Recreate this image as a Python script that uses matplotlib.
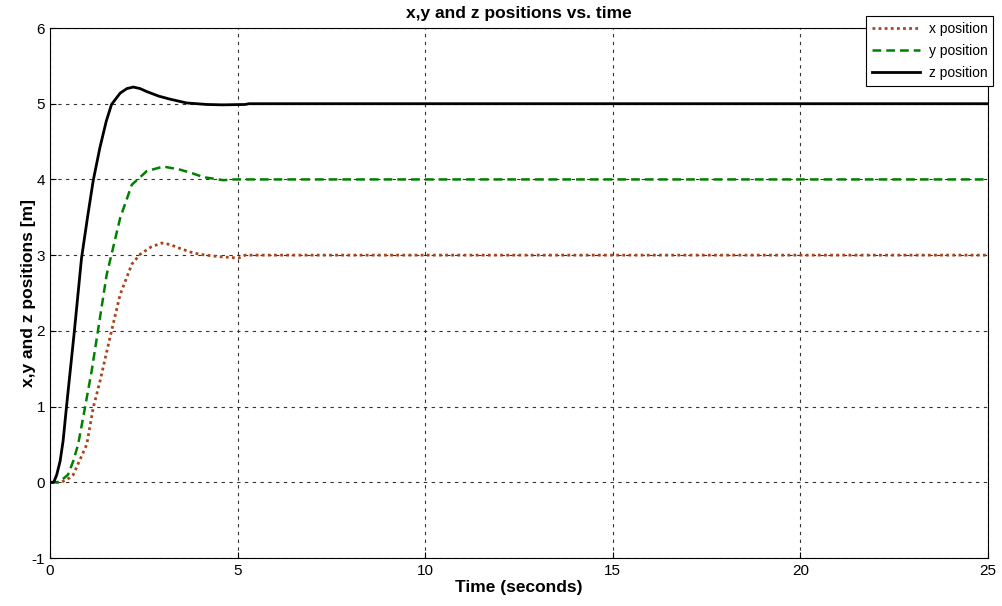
import matplotlib.pyplot as plt

plt.rcParams['font.family'] = ['Liberation Sans', 'DejaVu Sans']
plt.rcParams['axes.unicode_minus'] = False

# values
t_x = [0, 0.3, 0.53, 0.62, 0.8, 0.98, 1.15, 1.33, 1.64, 1.87, 2.18, 2.4, 2.7,
       2.98, 3.2, 3.46, 3.75, 4.0, 4.5, 4.8, 5.02, 5.2, 5.9, 25]
pos_x = [0, 0, 0.06, 0.1, 0.3, 0.5, 0.98, 1.33, 2.0, 2.48, 2.88, 3.01, 3.11,
         3.16, 3.14, 3.09, 3.04, 3.01, 2.98, 2.97, 2.96, 3.0, 3.0, 3.0]

t_y = [0, 0.2, 0.36, 0.48, 0.62, 0.75, 0.93, 1.11, 1.29, 1.51, 1.87, 2.18,
       2.58, 3.02, 3.46, 3.8, 4.09, 4.62, 4.9, 25]
pos_y = [0, 0, 0.05, 0.1, 0.28, 0.5, 0.98, 1.47, 2.04, 2.74, 3.49, 3.93,
         4.11, 4.17, 4.13, 4.08, 4.03, 3.99, 4.0, 4.0]

t_z = [0, 0.1, 0.18, 0.27, 0.35, 0.44, 0.65, 0.84, 1.0, 1.15, 1.33, 1.5,
       1.64, 1.87, 2.05, 2.22, 2.4, 2.58, 2.9, 3.2, 3.64, 4.18, 4.6, 5.2,
       5.3, 25]
pos_z = [0, 0, 0.1, 0.28, 0.55, 1.0, 2.0, 2.96, 3.5, 3.98, 4.42, 4.77,
         4.99, 5.14, 5.2, 5.22, 5.2, 5.16, 5.1, 5.06, 5.01, 4.99, 4.985, 4.99,
         5.0, 5.0]

xticks = [0, 5, 10, 15, 20, 25]
yticks = [-1, 0, 1, 2, 3, 4, 5, 6]

fig = plt.figure(figsize=(10.03, 6.06), dpi=100)
ax = fig.add_axes([50/1003, 1 - 558/606, 938/1003, 530/606])

ax.plot(t_x, pos_x, color='#a8441c', linestyle=(0, (1, 1.2)), linewidth=2,
        label='x position')
ax.plot(t_y, pos_y, color='#008000', linestyle=(0, (3.5, 2)), linewidth=1.8,
        label='y position')
ax.plot(t_z, pos_z, color='black', linestyle='-', linewidth=2,
        label='z position')

ax.set_xlim(0, 25)
ax.set_ylim(-1, 6)
ax.set_xticks(xticks)
ax.set_yticks(yticks)
ax.tick_params(direction='in', labelsize=11, length=4, width=0.8, colors='black')
ax.tick_params(axis='x', pad=4)
ax.grid(True, color='#333333', linestyle=(0, (3, 4)), linewidth=0.8)
for s in ax.spines.values():
    s.set_linewidth(0.8)

ax.set_title('x,y and z positions vs. time', fontsize=12.5, fontweight='bold', pad=7)
ax.set_xlabel('Time (seconds)', fontsize=12.5, fontweight='bold', labelpad=2)
ax.set_ylabel('x,y and z positions [m]', fontsize=12.5, fontweight='bold', labelpad=-3)

leg = ax.legend(loc='upper right', bbox_to_anchor=(993/1003, 1 - 16/606),
                bbox_transform=fig.transFigure, fontsize=10, fancybox=False,
                framealpha=1, edgecolor='black', borderaxespad=0,
                handlelength=3.5, handletextpad=0.6, borderpad=0.4,
                labelspacing=0.6)
leg.get_frame().set_linewidth(0.8)

fig.savefig('out.png', dpi=100)
